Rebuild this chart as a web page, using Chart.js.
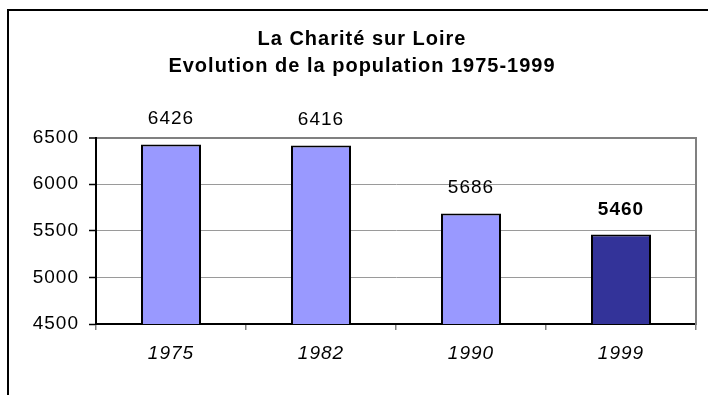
<!DOCTYPE html>
<html>
<head>
<meta charset="utf-8">
<title>La Charité sur Loire</title>
<script src="https://cdn.jsdelivr.net/npm/chart.js@4.4.1/dist/chart.umd.min.js"></script>
<style>
  html, body { margin: 0; padding: 0; background: #fff; }
  #frame {
    position: absolute; left: 7px; top: 9px; width: 720px; height: 400px;
    border-left: 2px solid #000; border-top: 2px solid #000;
  }
  #populationChart { position: absolute; left: 0; top: 0; }
</style>
</head>
<body>
<div id="frame"></div>
<canvas id="populationChart" width="708" height="395"></canvas>
<script>
const YEARS = ['1975', '1982', '1990', '1999']
const POPULATION = [6426, 6416, 5686, 5460]
const BAR_COLORS = ['#9999ff', '#9999ff', '#9999ff', '#333399']
const BOLD_LABELS = [false, false, false, true]
const Y_MIN = 4500
const Y_MAX = 6500
const Y_STEP = 500
const TITLE_LINES = ['La Charité sur Loire', 'Evolution de la population 1975-1999']

const FONT = '"Liberation Sans", Arial, sans-serif'

// slightly loose text, like the old spreadsheet rendering
const textSpacing = {
  id: 'textSpacing',
  beforeDraw(chart) {
    chart.ctx.letterSpacing = '1px'
  },
}

// value written above each bar, last one in bold
const valueLabels = {
  id: 'valueLabels',
  afterDatasetsDraw(chart) {
    const { ctx } = chart
    const bars = chart.getDatasetMeta(0).data
    ctx.save()
    ctx.fillStyle = '#000'
    ctx.textAlign = 'center'
    ctx.textBaseline = 'alphabetic'
    bars.forEach((bar, i) => {
      ctx.font = `${BOLD_LABELS[i] ? 'bold ' : ''}19px ${FONT}`
      ctx.fillText(String(POPULATION[i]), bar.x, bar.y - 20)
    })
    ctx.restore()
  },
}

function initializeChart() {
  const canvas = document.getElementById('populationChart')
  if (!canvas || typeof Chart === 'undefined') {
    return null
  }

  return new Chart(canvas, {
    type: 'bar',
    data: {
      labels: YEARS,
      datasets: [
        {
          data: POPULATION,
          backgroundColor: BAR_COLORS,
          borderColor: '#000',
          borderWidth: 2,
          borderSkipped: false,
          barPercentage: 0.4,
          categoryPercentage: 1,
        },
      ],
    },
    options: {
      responsive: false,
      animation: false,
      layout: { padding: { left: 16, right: 0, top: 0, bottom: 0 } },
      scales: {
        x: {
          afterFit(scale) {
            scale.height = 71
          },
          grid: {
            offset: true,
            drawOnChartArea: false,
            tickLength: 6,
            tickColor: '#808080',
            lineWidth: 1.5,
          },
          border: { color: '#000', width: 2 },
          ticks: {
            color: '#000',
            padding: 12,
            font: { family: FONT, size: 19, style: 'italic' },
          },
        },
        y: {
          min: Y_MIN,
          max: Y_MAX,
          afterFit(scale) {
            scale.width = 80
          },
          grid: {
            color: (ctx) => (ctx.tick && ctx.tick.value === Y_MAX ? '#808080' : '#9a9a9a'),
            lineWidth: (ctx) => (ctx.tick && ctx.tick.value === Y_MAX ? 2 : 1),
            tickColor: '#000',
            tickLength: 7,
            tickWidth: 1.5,
          },
          border: { color: '#000', width: 2 },
          ticks: {
            stepSize: Y_STEP,
            color: '#000',
            padding: 10,
            font: { family: FONT, size: 19 },
            callback: (value) => String(value),
          },
        },
        yRight: {
          type: 'linear',
          position: 'right',
          min: Y_MIN,
          max: Y_MAX,
          afterFit(scale) {
            scale.width = 12
          },
          grid: { drawOnChartArea: false, drawTicks: false },
          border: { color: '#808080', width: 2 },
          ticks: { display: false },
        },
      },
      plugins: {
        legend: { display: false },
        tooltip: { enabled: false },
        title: {
          display: true,
          text: TITLE_LINES,
          color: '#000',
          font: { family: FONT, size: 20, weight: 'bold', lineHeight: 1.365 },
          padding: { top: 26, bottom: 57 },
        },
      },
    },
    plugins: [textSpacing, valueLabels],
  })
}

globalThis.addEventListener('DOMContentLoaded', () => {
  initializeChart()
})
</script>
</body>
</html>
